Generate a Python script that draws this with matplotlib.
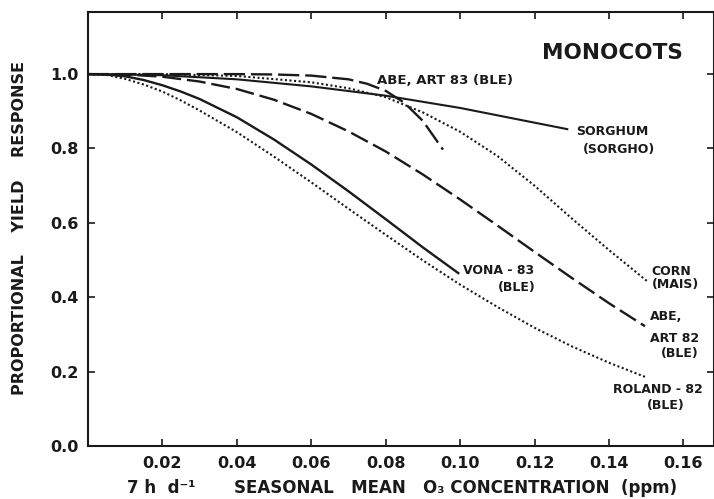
"""
Monocots: proportional yield response vs seasonal mean O3 concentration.

Curves read off the scanned figure (7 h/d seasonal mean, ppm).
"""

import matplotlib
matplotlib.use("Agg")
import matplotlib.pyplot as plt

# --- data ------------------------------------------------------------------
sorghum_x = [0.0, 0.01, 0.02, 0.04, 0.06, 0.08, 0.10, 0.1288]
sorghum_y = [1.0, 0.999, 0.997, 0.986, 0.967, 0.942, 0.909, 0.852]

abe83_x = [0.0, 0.04, 0.05, 0.06, 0.07, 0.075, 0.08, 0.085, 0.09, 0.0954]
abe83_y = [1.0, 1.0, 0.999, 0.996, 0.986, 0.974, 0.955, 0.923, 0.874, 0.797]

corn_x = [0.0, 0.02, 0.04, 0.06, 0.07, 0.08, 0.09, 0.10, 0.11, 0.12, 0.13, 0.14, 0.1503]
corn_y = [1.0, 1.0, 0.995, 0.978, 0.962, 0.938, 0.897, 0.845, 0.780, 0.700, 0.612, 0.527, 0.443]

abe82_x = [0.0, 0.01, 0.02, 0.03, 0.04, 0.05, 0.06, 0.07, 0.08, 0.09, 0.10,
           0.11, 0.12, 0.13, 0.14, 0.1497]
abe82_y = [1.0, 0.999, 0.993, 0.980, 0.960, 0.931, 0.893, 0.846, 0.792, 0.730, 0.663,
           0.593, 0.522, 0.452, 0.384, 0.322]

vona_x = [0.0, 0.005, 0.01, 0.015, 0.02, 0.025, 0.03, 0.04, 0.05, 0.06, 0.07, 0.08, 0.09, 0.0995]
vona_y = [1.0, 0.999, 0.994, 0.984, 0.970, 0.953, 0.933, 0.884, 0.824, 0.757, 0.685, 0.610,
          0.534, 0.465]

roland_x = [0.0, 0.005, 0.01, 0.015, 0.02, 0.025, 0.03, 0.04, 0.05, 0.06, 0.07, 0.08, 0.09,
            0.10, 0.11, 0.12, 0.13, 0.14, 0.1497]
roland_y = [1.0, 0.998, 0.987, 0.972, 0.953, 0.929, 0.902, 0.844, 0.778, 0.709, 0.638, 0.568,
            0.499, 0.434, 0.374, 0.318, 0.268, 0.224, 0.186]

x_ticks = [0.02, 0.04, 0.06, 0.08, 0.10, 0.12, 0.14, 0.16]
x_tick_labels = ["0.02", "0.04", "0.06", "0.08", "0.10", "0.12", "0.14", "0.16"]
y_ticks = [0.0, 0.2, 0.4, 0.6, 0.8, 1.0]
y_tick_labels = ["0.0", "0.2", "0.4", "0.6", "0.8", "1.0"]

INK = "#1a1a1a"
LW = 1.7
LABEL_SIZE = 9
FONT = dict(family="DejaVu Sans", fontweight="bold", color=INK)


def main():
    fig = plt.figure(figsize=(7.14, 4.99), dpi=100)
    ax = fig.add_axes([88 / 714, 53 / 499, 625.5 / 714, 434 / 499])

    # curves
    ax.plot(sorghum_x, sorghum_y, color=INK, lw=1.5)
    ax.plot(abe83_x, abe83_y, color=INK, lw=LW, linestyle=(0, (9, 2.5)))
    ax.plot(corn_x, corn_y, color=INK, lw=1.5, linestyle=(0, (1, 1.2)))
    ax.plot(abe82_x, abe82_y, color=INK, lw=LW, linestyle=(0, (8, 2.5)))
    ax.plot(vona_x, vona_y, color=INK, lw=LW)
    ax.plot(roland_x, roland_y, color=INK, lw=1.5, linestyle=(0, (1, 1.2)))

    ax.set_xlim(0, 0.1681)
    ax.set_ylim(0, 1.167)

    ax.set_xticks(x_ticks)
    ax.set_xticklabels(x_tick_labels, fontsize=11.5, fontweight="bold", color=INK)
    ax.set_yticks(y_ticks)
    ax.set_yticklabels(y_tick_labels, fontsize=11.5, fontweight="bold", color=INK)
    ax.tick_params(direction="in", length=5, width=1.2, color=INK,
                   top=True, right=True, pad=7)

    for side in ax.spines.values():
        side.set_linewidth(1.5)
        side.set_color(INK)

    # curve labels
    ax.text(0.1409, 1.056, "MONOCOTS", fontsize=15.5, ha="center", va="center", **FONT)
    ax.text(0.0777, 0.984, "ABE, ART 83 (BLE)", fontsize=9.5, ha="left", va="center", **FONT)
    ax.text(0.1409, 0.847, "SORGHUM", fontsize=LABEL_SIZE, ha="center", va="center", **FONT)
    ax.text(0.1428, 0.798, "(SORGHO)", fontsize=LABEL_SIZE, ha="center", va="center", **FONT)
    ax.text(0.1567, 0.468, "CORN", fontsize=LABEL_SIZE, ha="center", va="center", **FONT)
    ax.text(0.1580, 0.433, "(MAIS)", fontsize=LABEL_SIZE, ha="center", va="center", **FONT)
    ax.text(0.1008, 0.473, "VONA - 83", fontsize=LABEL_SIZE, ha="left", va="center", **FONT)
    ax.text(0.1151, 0.427, "(BLE)", fontsize=LABEL_SIZE, ha="center", va="center", **FONT)
    ax.text(0.1511, 0.347, "ABE,", fontsize=LABEL_SIZE, ha="left", va="center", **FONT)
    ax.text(0.1511, 0.290, "ART 82", fontsize=LABEL_SIZE, ha="left", va="center", **FONT)
    ax.text(0.1589, 0.250, "(BLE)", fontsize=LABEL_SIZE, ha="center", va="center", **FONT)
    ax.text(0.1532, 0.151, "ROLAND - 82", fontsize=LABEL_SIZE, ha="center", va="center", **FONT)
    ax.text(0.1554, 0.110, "(BLE)", fontsize=LABEL_SIZE, ha="center", va="center", **FONT)

    # axis titles
    fig.text(20 / 714, 1 - 228 / 499, "PROPORTIONAL    YIELD    RESPONSE",
             fontsize=11.5, rotation=90, ha="center", va="center", **FONT)
    fig.text(161 / 714, 1 - 488 / 499, "7 h  d\u207b\u00b9",
             fontsize=12, ha="center", va="center", **FONT)
    fig.text(456 / 714, 1 - 488 / 499, "SEASONAL   MEAN   O\u2083 CONCENTRATION  (ppm)",
             fontsize=12, ha="center", va="center", **FONT)

    fig.savefig("out.png", dpi=100, facecolor="white")


if __name__ == "__main__":
    main()
